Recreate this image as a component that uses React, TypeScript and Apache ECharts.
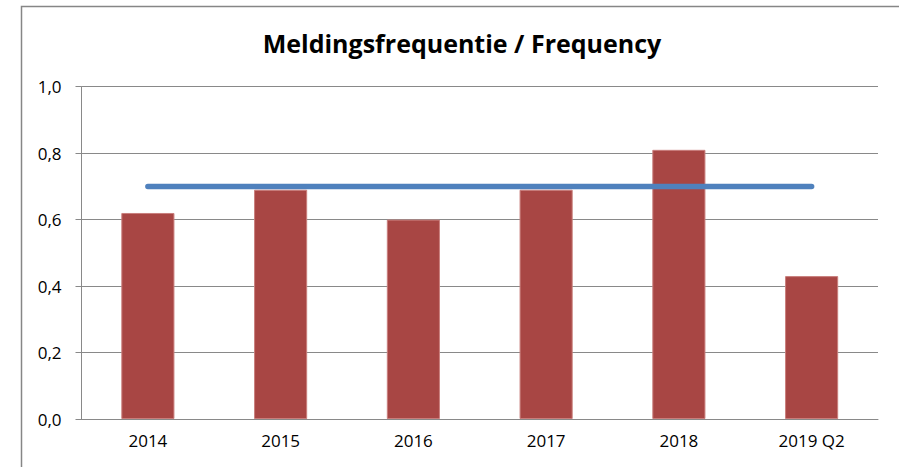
import React, { useEffect, useRef } from "react";
import * as echarts from "echarts";

const categories = ["2014", "2015", "2016", "2017", "2018", "2019 Q2"];
const frequency = [0.62, 0.69, 0.6, 0.69, 0.81, 0.43];
const norm = [0.7, 0.7, 0.7, 0.7, 0.7, 0.7];
const title = "Meldingsfrequentie / Frequency";

export default function App() {
  const ref = useRef<HTMLDivElement>(null);
  useEffect(() => {
    if (!ref.current) return;
    const chart = echarts.init(ref.current, null, { renderer: "svg" });
    const font = "Open Sans, Noto Sans, sans-serif";
    chart.setOption({
      animation: false,
      backgroundColor: "#ffffff",
      title: {
        text: title,
        left: 457,
        textAlign: "center",
        top: 25,
        textStyle: { fontFamily: font, fontSize: 25, fontWeight: "bold", color: "#000" },
      },
      graphic: [
        {
          type: "rect",
          shape: { x: 21.5, y: 6.5, width: 1000, height: 1000 },
          style: { fill: "none", stroke: "#868686", lineWidth: 1.5 },
          silent: true,
        },
      ],
      grid: { left: 81.5, right: 21, top: 86.7, bottom: 48 },
      xAxis: {
        type: "category",
        data: categories,
        boundaryGap: true,
        axisLine: { lineStyle: { color: "#898989", width: 1 } },
        axisTick: { show: false },
        axisLabel: { fontFamily: font, fontSize: 17, color: "#000", margin: 13 },
      },
      yAxis: {
        type: "value",
        min: 0,
        max: 1,
        interval: 0.2,
        axisLine: { show: true, lineStyle: { color: "#898989", width: 1 } },
        axisTick: { show: true, length: 6, lineStyle: { color: "#898989" } },
        splitLine: { lineStyle: { color: "#898989", width: 1 } },
        axisLabel: {
          fontFamily: font,
          fontSize: 17,
          color: "#000",
          margin: 20,
          formatter: (v: number) => v.toFixed(1).replace(".", ","),
        },
      },
      series: [
        {
          type: "bar",
          data: frequency,
          barWidth: "40%",
          itemStyle: { color: "#A84644", borderColor: "#C97E7C", borderWidth: 1 },
          z: 2,
        },
        {
          type: "line",
          data: norm,
          symbol: "none",
          lineStyle: { color: "#4F81BD", width: 5.5, cap: "round" },
          z: 3,
        },
      ],
    });
    return () => chart.dispose();
  }, []);
  return (
    <div
      ref={ref}
      style={{ position: "fixed", left: 0, top: 0, width: 899, height: 467 }}
    />
  );
}
